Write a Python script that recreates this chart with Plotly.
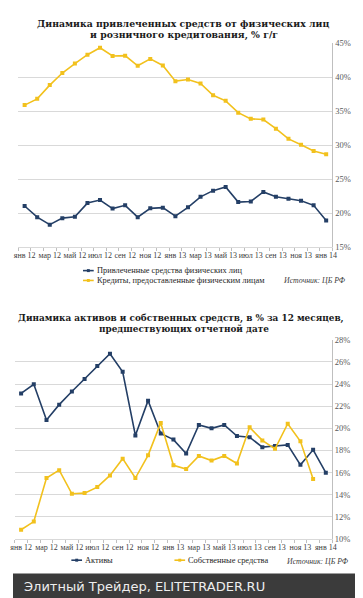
import plotly.graph_objects as go

W, H = 363, 598

# ---------------- data ----------------
months = ["янв 12", "фев 12", "мар 12", "апр 12", "май 12", "июн 12", "июл 12", "авг 12",
          "сен 12", "окт 12", "ноя 12", "дек 12", "янв 13", "фев 13", "мар 13", "апр 13",
          "май 13", "июн 13", "июл 13", "авг 13", "сен 13", "окт 13", "ноя 13", "дек 13",
          "янв 14"]

deposits = [21.07, 19.43, 18.33, 19.29, 19.48, 21.50, 21.94, 20.69, 21.17, 19.43, 20.73,
            20.83, 19.58, 20.88, 22.42, 23.33, 23.86, 21.65, 21.74, 23.14, 22.42, 22.13,
            21.84, 21.17, 18.95]
loans = [35.90, 36.82, 38.84, 40.62, 42.01, 43.31, 44.33, 43.12, 43.17, 41.68, 42.69,
         41.73, 39.42, 39.66, 39.08, 37.34, 36.53, 34.79, 33.88, 33.78, 32.43, 30.94,
         30.07, 29.16, 28.68]

assets = [23.15, 23.98, 20.75, 22.14, 23.33, 24.45, 25.63, 26.73, 25.10, 19.36, 22.50,
          19.54, 18.98, 17.73, 20.30, 20.00, 20.30, 19.30, 19.20, 18.30, 18.41, 18.50,
          16.70, 18.06, 15.99]
equity = [10.84, 11.58, 15.51, 16.22, 14.09, 14.15, 14.69, 15.75, 17.26, 15.51, 17.56,
          20.49, 16.66, 16.32, 17.50, 17.09, 17.50, 16.82, 20.09, 18.91, 18.15, 20.42,
          18.83, 15.43, None]

title_top = ["Динамика привлеченных средств от физических лиц",
             "и розничного кредитования, % г/г"]
title_bottom = ["Динамика активов и собственных средств, в % за 12 месяцев,",
                "предшествующих отчетной дате"]
name_dep = "Привлеченные средства физических лиц"
name_loan = "Кредиты, предоставленные физическим лицам"
name_assets = "Активы"
name_equity = "Собственные средства"
source = "Источник: ЦБ РФ"
footer = "Элитный Трейдер, ELITETRADER.RU"

top_ticks = [15, 20, 25, 30, 35, 40, 45]
bottom_ticks = [10, 12, 14, 16, 18, 20, 22, 24, 26, 28]

# ---------------- style ----------------
BLUE = "#243f66"
GOLD = "#f2c11d"
GRID = "#d9d9d9"
SERIF = "Liberation Serif, Times New Roman, serif"
TITLE_FONT = "DejaVu Serif, serif"


def X(px):
    return px / W


def Y(py):
    return 1 - py / H


idx = list(range(len(months)))
tickvals = idx[::2]
ticktext = months[::2]

fig = go.Figure()


def add_series(xa, ya, values, name, color):
    fig.add_trace(go.Scatter(
        x=idx, y=values, name=name, mode="lines+markers",
        line=dict(color=color, width=1.6),
        marker=dict(symbol="square", size=4, color=color),
        xaxis=xa, yaxis=ya, showlegend=False, connectgaps=False,
        hovertemplate="%{y:.1f}%<extra>" + name + "</extra>"))


add_series("x", "y", deposits, name_dep, BLUE)
add_series("x", "y", loans, name_loan, GOLD)
add_series("x2", "y2", assets, name_assets, BLUE)
add_series("x2", "y2", equity, name_equity, GOLD)

xcommon = dict(
    range=[-0.5, len(months) - 0.5], tickmode="array", tickvals=tickvals, ticktext=ticktext,
    tickangle=0, ticks="", showgrid=False, zeroline=False, showline=True, linecolor=GRID,
    linewidth=1, tickfont=dict(family=SERIF, size=8, color="#404040"),
    minor=dict(tickmode="linear", tick0=-0.5, dtick=1, ticks="outside", ticklen=3,
               tickcolor="#bfbfbf", tickwidth=1, showgrid=False),
)
ycommon = dict(
    side="right", showgrid=True, gridcolor=GRID, gridwidth=1,
    zeroline=False, showline=True, linecolor="#bfbfbf", linewidth=1, ticks="",
    tickfont=dict(family=SERIF, size=8.5, color="#595959"), tickmode="array",
)

fig.update_layout(
    width=W, height=H,
    margin=dict(l=0, r=0, t=0, b=0),
    paper_bgcolor="white", plot_bgcolor="white",
    showlegend=False,
    xaxis=dict(domain=[X(5.5), X(328.5)], anchor="y", **xcommon),
    yaxis=dict(domain=[Y(238.3), Y(30.7)], anchor="x", range=[15, 45],
               tickvals=top_ticks, ticktext=[f"{v}%" for v in top_ticks], **ycommon),
    xaxis2=dict(domain=[X(1.8), X(328.2)], anchor="y2", **xcommon),
    yaxis2=dict(domain=[Y(535), Y(332.3)], anchor="x2", range=[10, 28],
                tickvals=bottom_ticks, ticktext=[f"{v}%" for v in bottom_ticks], **ycommon),
)

annotations = []
shapes = []


def text(px, py, s, size, family, color="#000000", anchor="center", bold=False, italic=False):
    if bold:
        s = "<b>" + s + "</b>"
    if italic:
        s = "<i>" + s + "</i>"
    annotations.append(dict(x=X(px), y=Y(py), xref="paper", yref="paper", text=s,
                            showarrow=False, xanchor=anchor, yanchor="middle",
                            font=dict(family=family, size=size, color=color)))


# titles
text(175, 10.7, title_top[0], 9.3, TITLE_FONT, "#1a1a1a", bold=True)
text(176, 22.3, title_top[1], 9.3, TITLE_FONT, "#1a1a1a", bold=True)
text(173, 310, title_bottom[0], 8.9, TITLE_FONT, "#1a1a1a", bold=True)
text(176, 321, title_bottom[1], 8.9, TITLE_FONT, "#1a1a1a", bold=True)


def legend_key(px, py, label, color):
    shapes.append(dict(type="line", xref="paper", yref="paper", x0=X(px), x1=X(px + 11),
                       y0=Y(py), y1=Y(py), line=dict(color=color, width=1.6)))
    shapes.append(dict(type="rect", xref="paper", yref="paper",
                       x0=X(px + 4), x1=X(px + 7), y0=Y(py + 1.5), y1=Y(py - 1.5),
                       line=dict(width=0), fillcolor=color))
    text(px + 12, py, label, 8.4, SERIF, "#262626", anchor="left")


legend_key(72, 262, name_dep, BLUE)
legend_key(72, 272, name_loan, GOLD)
legend_key(60, 556.5, name_assets, BLUE)
legend_key(166, 556.5, name_equity, GOLD)

text(344, 272.5, source, 7.8, SERIF, "#404040", anchor="right", italic=True)
text(348, 558, source, 7.8, SERIF, "#404040", anchor="right", italic=True)

# footer band
shapes.append(dict(type="rect", xref="paper", yref="paper", x0=0, x1=1, y0=0, y1=Y(570),
                   line=dict(width=0), fillcolor="#3b3b3b", layer="above"))
text(9, 583.5, footer, 13, "DejaVu Sans, sans-serif", "#eeeeee", anchor="left")

fig.update_layout(annotations=annotations, shapes=shapes)

fig.write_html("out.html")
